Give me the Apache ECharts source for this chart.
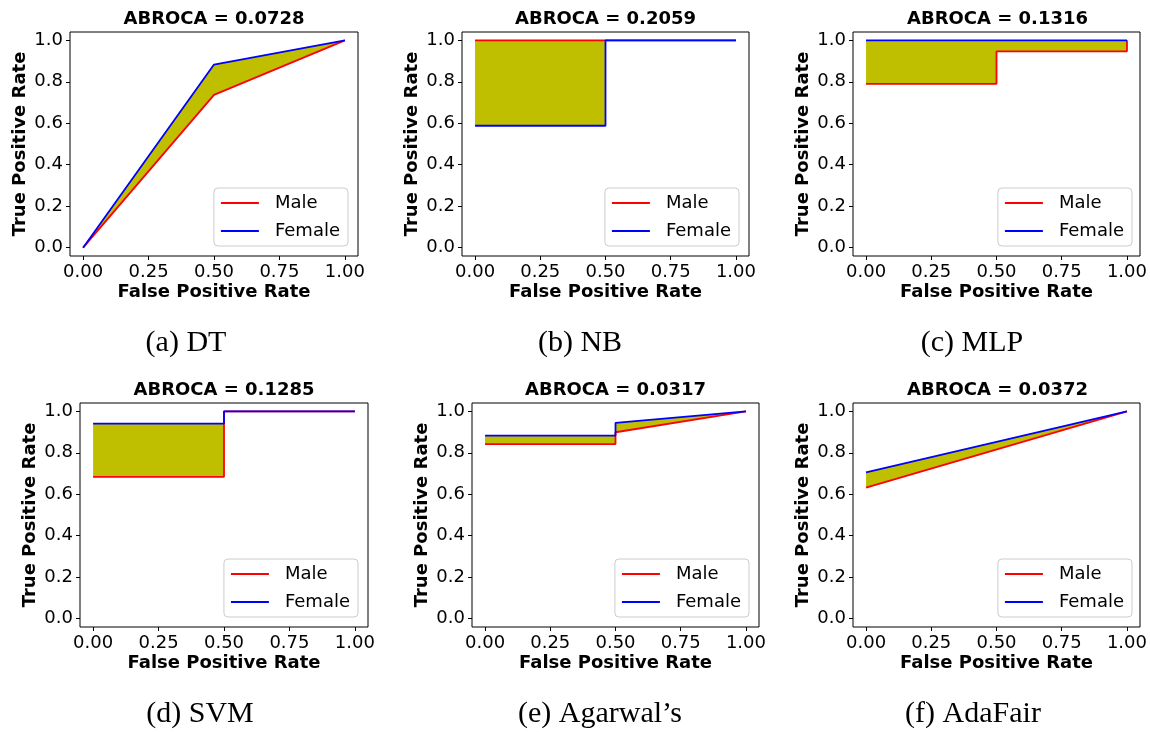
<!DOCTYPE html>
<html>
<head>
<meta charset="utf-8">
<script src="https://cdn.jsdelivr.net/npm/echarts@6/dist/echarts.min.js"></script>
<style>
html,body{margin:0;padding:0;background:#fff;}
#main{width:1150px;height:732px;}
</style>
</head>
<body>
<div id="main"></div>
<script>
// ---- data ----
const panelTitles = ['ABROCA = 0.0728', 'ABROCA = 0.2059', 'ABROCA = 0.1316', 'ABROCA = 0.1285', 'ABROCA = 0.0317', 'ABROCA = 0.0372'];
const captions = ['(a) DT', '(b) NB', '(c) MLP', '(d) SVM', '(e) Agarwal\u2019s', '(f) AdaFair'];
const seriesNames = ['Male', 'Female'];
const xTicks = [0, 0.25, 0.5, 0.75, 1.0];
const yTicks = [0, 0.2, 0.4, 0.6, 0.8, 1.0];

const dtMale = [[0, 0], [0.5, 0.737], [1, 1]];
const dtFemale = [[0, 0], [0.5, 0.883], [1, 1]];
const nbMale = [[0, 1], [0.5, 1], [1, 1]];
const nbFemale = [[0, 0.588], [0.5, 0.588], [0.5, 1], [1, 1]];
const mlpMale = [[0, 0.79], [0.5, 0.79], [0.5, 0.947], [1, 0.947], [1, 1]];
const mlpFemale = [[0, 1], [1, 1]];
const svmMale = [[0, 0.684], [0.5, 0.684], [0.5, 1], [1, 1]];
const svmFemale = [[0, 0.941], [0.5, 0.941], [0.5, 1], [1, 1]];
const agMale = [[0, 0.842], [0.5, 0.842], [0.5, 0.899], [1, 1]];
const agFemale = [[0, 0.883], [0.5, 0.883], [0.5, 0.944], [1, 1]];
const afMale = [[0, 0.632], [1, 1]];
const afFemale = [[0, 0.706], [1, 1]];

const maleCurves = [dtMale, nbMale, mlpMale, svmMale, agMale, afMale];
const femaleCurves = [dtFemale, nbFemale, mlpFemale, svmFemale, agFemale, afFemale];

// ---- layout ----
const W = 1150, H = 732;
const grids = [
  {left: 70, top: 32, width: 288, height: 224},
  {left: 462, top: 32, width: 287, height: 224},
  {left: 853, top: 32, width: 289, height: 224},
  {left: 80, top: 403, width: 288, height: 224},
  {left: 472, top: 403, width: 287, height: 224},
  {left: 853, top: 403, width: 289, height: 224}
];
const captionPos = [[186, 343], [580, 343], [972, 343], [200, 714], [600, 714], [973, 714]];
const FONT = 'DejaVu Sans';

const option = {
  backgroundColor: '#ffffff',
  animation: false,
  grid: [], xAxis: [], yAxis: [], series: [], legend: [], graphic: []
};

grids.forEach((g, i) => {
  option.grid.push({
    left: g.left, top: g.top, width: g.width, height: g.height,
    show: true, borderColor: '#000', borderWidth: 1, backgroundColor: 'transparent',
    containLabel: false
  });
  option.xAxis.push({
    type: 'value', gridIndex: i, min: -0.05, max: 1.05,
    name: 'False Positive Rate', nameLocation: 'middle', nameGap: 27,
    nameTextStyle: {fontFamily: FONT, fontSize: 18, fontWeight: 'bold', color: '#000'},
    axisLine: {show: false, onZero: false},
    splitLine: {show: false},
    axisTick: {show: true, inside: false, length: 4, lineStyle: {color: '#000'}, customValues: xTicks},
    axisLabel: {show: true, margin: 7, fontFamily: FONT, fontSize: 18, color: '#000',
      customValues: xTicks, formatter: v => Number(v).toFixed(2)}
  });
  option.yAxis.push({
    type: 'value', gridIndex: i, min: -0.04, max: 1.04,
    name: 'True Positive Rate', nameLocation: 'middle', nameGap: 41, nameRotate: 90,
    nameTextStyle: {fontFamily: FONT, fontSize: 18, fontWeight: 'bold', color: '#000'},
    axisLine: {show: false, onZero: false},
    splitLine: {show: false},
    axisTick: {show: true, inside: false, length: 4, lineStyle: {color: '#000'}, customValues: yTicks},
    axisLabel: {show: true, margin: 7, fontFamily: FONT, fontSize: 18, color: '#000',
      customValues: yTicks, formatter: v => Number(v).toFixed(1)}
  });

  const male = maleCurves[i], female = femaleCurves[i];
  const poly = female.concat(male.slice().reverse());
  option.series.push({
    type: 'custom', name: 'fill' + i, xAxisIndex: i, yAxisIndex: i, silent: true,
    data: poly, encode: {x: 0, y: 1}, z: 1,
    renderItem: function (params, api) {
      if (params.dataIndex !== 0) return null;
      const pts = poly.map(p => api.coord(p));
      return {type: 'polygon', shape: {points: pts}, style: {fill: '#bfbf00', stroke: null}};
    }
  });
  option.series.push({
    type: 'line', name: seriesNames[0], xAxisIndex: i, yAxisIndex: i, data: male,
    symbol: 'none', color: '#ff0000', lineStyle: {color: '#ff0000', width: 1.8}, z: 2
  });
  option.series.push({
    type: 'line', name: seriesNames[1], xAxisIndex: i, yAxisIndex: i, data: female,
    symbol: 'none', color: '#0000ff', lineStyle: {color: '#0000ff', width: 1.8}, z: 3
  });

  option.legend.push({
    data: seriesNames, orient: 'vertical',
    right: W - (g.left + g.width) + 10, bottom: H - (g.top + g.height) + 10,
    icon: 'rect', itemWidth: 38, itemHeight: 2, itemGap: 10,
    padding: [6, 8, 6, 7],
    borderColor: '#cccccc', borderWidth: 1, borderRadius: 4,
    backgroundColor: 'rgba(255,255,255,0.8)',
    selectedMode: false,
    textStyle: {fontFamily: FONT, fontSize: 18, color: '#000', padding: [0, 0, 0, 11]}
  });

  option.graphic.push({
    type: 'text', x: g.left + g.width / 2, y: g.top - 13,
    style: {text: panelTitles[i], font: 'bold 18px "DejaVu Sans"', fill: '#000',
      align: 'center', verticalAlign: 'middle', textAlign: 'center', textVerticalAlign: 'middle'}
  });
  option.graphic.push({
    type: 'text', x: captionPos[i][0], y: captionPos[i][1],
    style: {text: captions[i], font: '30px "Liberation Serif"', fill: '#000',
      align: 'center', verticalAlign: 'middle', textAlign: 'center', textVerticalAlign: 'middle'}
  });
});

const chart = echarts.init(document.getElementById('main'), null, {renderer: 'canvas', width: W, height: H});
chart.setOption(option);
</script>
</body>
</html>
